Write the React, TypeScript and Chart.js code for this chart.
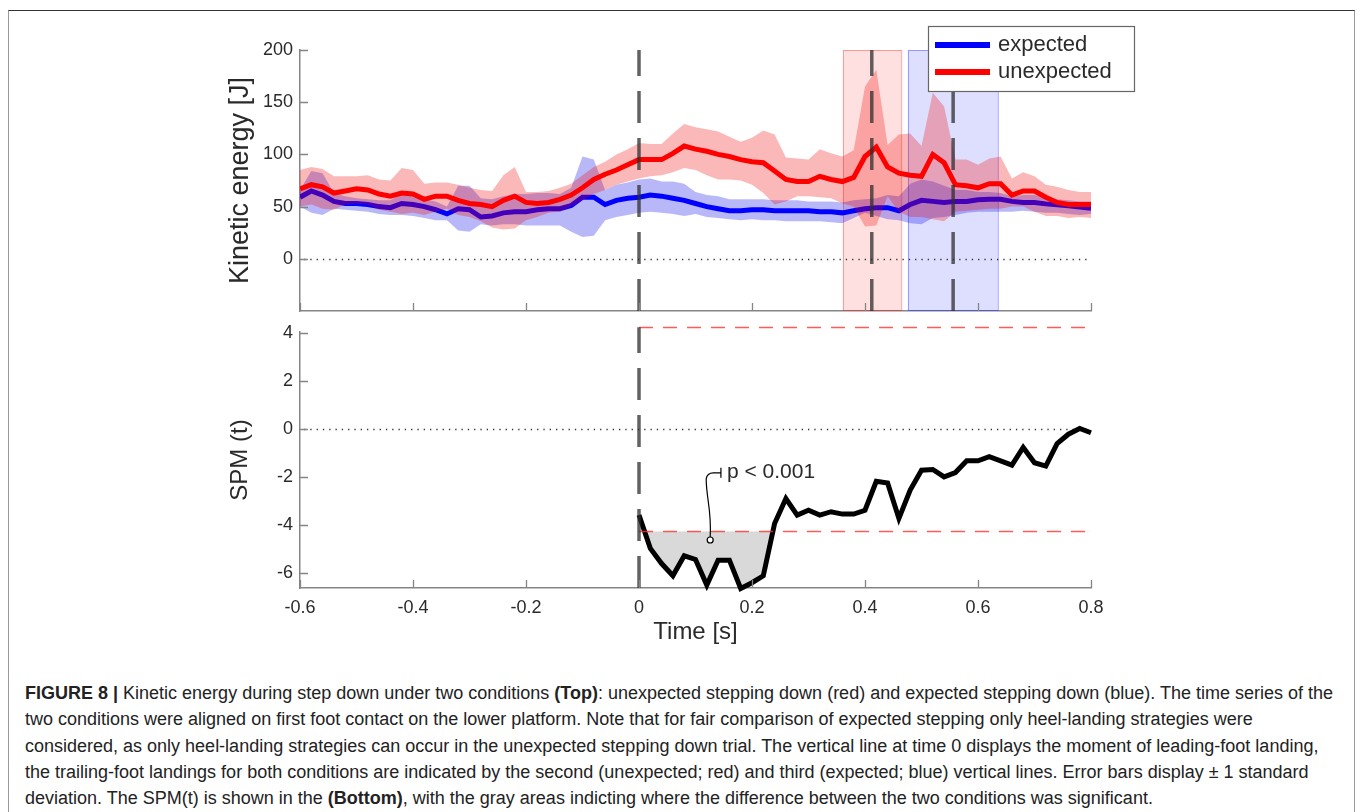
import React, { useEffect, useRef } from 'react';
import { Chart, registerables } from 'chart.js';

Chart.register(...registerables);

// ---------- data ----------
const TIME = [
  -0.6, -0.58, -0.56, -0.54, -0.52, -0.5, -0.48, -0.46, -0.44, -0.42,
  -0.4, -0.38, -0.36, -0.34, -0.32, -0.3, -0.28, -0.26, -0.24, -0.22,
  -0.2, -0.18, -0.16, -0.14, -0.12, -0.1, -0.08, -0.06, -0.04, -0.02,
  0, 0.02, 0.04, 0.06, 0.08, 0.1, 0.12, 0.14, 0.16, 0.18,
  0.2, 0.22, 0.24, 0.26, 0.28, 0.3, 0.32, 0.34, 0.36, 0.38,
  0.4, 0.42, 0.44, 0.46, 0.48, 0.5, 0.52, 0.54, 0.56, 0.58,
  0.6, 0.62, 0.64, 0.66, 0.68, 0.7, 0.72, 0.74, 0.76, 0.78,
  0.8,
];

const RED_MEAN = [
  67, 71, 69, 63, 65, 67, 66, 62, 60, 63,
  62, 57, 60, 60, 56, 53, 52, 50, 56, 60,
  54, 53, 54, 57, 61, 68, 76, 81, 85, 90,
  95, 95, 95, 101, 108, 105, 103, 100, 98, 95,
  93, 92, 84, 76, 74, 74, 79, 76, 74, 78,
  98, 107, 88, 82, 80, 79, 100, 92, 71, 70,
  68, 72, 72, 61, 65, 65, 59, 54, 52, 52,
  52,
];
const RED_UPPER = [
  85, 88, 86, 79, 79, 79, 80, 76, 75, 87,
  85, 72, 73, 73, 71, 68, 66, 65, 80, 88,
  64, 64, 65, 68, 72, 80, 88, 93, 100, 105,
  111, 110, 110, 120, 129, 126, 124, 122, 117, 112,
  116, 123, 119, 97, 96, 95, 105, 101, 98, 104,
  165, 181, 109, 119, 120, 108, 159, 146, 95, 95,
  90, 96, 98, 77, 83, 79, 71, 69, 66, 64,
  64,
];
const RED_LOWER = [
  50, 52, 48, 47, 52, 53, 52, 47, 45, 43,
  44, 42, 45, 48, 42, 40, 36, 30, 28, 29,
  37, 40, 44, 45, 50, 56, 62, 66, 71, 74,
  77, 79, 80, 83, 87, 85, 80, 76, 76, 75,
  71, 63, 52, 55, 60, 60, 59, 58, 53, 50,
  31, 32, 60, 45, 40, 40, 38, 36, 45, 46,
  47, 48, 48, 50, 50, 45, 41, 41, 39, 40,
  39,
];

const BLUE_MEAN = [
  59, 65, 61, 55, 53, 53, 52, 50, 49, 53,
  52, 50, 47, 43, 48, 47, 40, 41, 44, 45,
  45, 47, 48, 48, 51, 59, 59, 52, 56, 58,
  59, 61, 60, 58, 56, 53, 50, 48, 46, 46,
  47, 47, 46, 46, 46, 46, 45, 45, 44, 46,
  48, 49, 49, 46, 52, 56, 55, 54, 55, 55,
  56.5, 57, 57, 55, 54, 54, 52.6, 51.7, 50.7, 49.5,
  48.5,
];
const BLUE_UPPER = [
  66, 84, 82, 63, 60, 58, 57, 56, 56, 62,
  60, 57, 55, 50, 70, 70, 58, 57, 60, 62,
  62, 63, 63, 62, 68, 98, 95, 66, 71, 73,
  76, 77, 74, 74, 72, 64, 61, 60, 57, 57,
  57, 57, 56, 56, 56, 55, 55, 55, 54, 56,
  57, 58, 61, 60, 72, 76, 74, 70, 66, 66,
  64, 64, 63, 60, 61, 61, 59, 57, 56, 55,
  55,
];
const BLUE_LOWER = [
  50, 44, 42, 48, 47, 46, 45, 43, 42, 42,
  41, 39, 37, 37, 27, 26, 33, 32, 33, 33,
  32, 32, 32, 32, 26, 21, 22, 37, 40, 42,
  44, 45, 44, 43, 41, 43, 40, 39, 38, 37,
  38, 37, 37, 36, 36, 36, 36, 35, 34, 39,
  44, 41, 38, 37, 34, 33, 39, 40, 42, 44,
  45, 45, 45, 45, 46, 45, 44, 44, 43, 42,
  43,
];

const SPM_TIME = [
  0, 0.02, 0.04, 0.06, 0.08, 0.1, 0.12, 0.14, 0.16, 0.18,
  0.2, 0.22, 0.24, 0.26, 0.28, 0.3, 0.32, 0.34, 0.36, 0.38,
  0.4, 0.42, 0.44, 0.46, 0.48, 0.5, 0.52, 0.54, 0.56, 0.58,
  0.6, 0.62, 0.64, 0.66, 0.68, 0.7, 0.72, 0.74, 0.76, 0.78,
  0.8,
];
const SPM_T = [
  -3.58, -4.97, -5.6, -6.11, -5.28, -5.43, -6.5, -5.46, -5.46, -6.64,
  -6.4, -6.11, -3.93, -2.89, -3.58, -3.38, -3.58, -3.44, -3.54, -3.54,
  -3.38, -2.17, -2.24, -3.72, -2.54, -1.71, -1.68, -1.99, -1.81, -1.32,
  -1.32, -1.15, -1.32, -1.5, -0.76, -1.4, -1.54, -0.6, -0.21, 0.03,
  -0.15,
];

const X_TICKS = [-0.6, -0.4, -0.2, 0, 0.2, 0.4, 0.6, 0.8];
const KE_TICKS = [0, 50, 100, 150, 200];
const SPM_TICKS = [-6, -4, -2, 0, 2, 4];
const KE_RANGE = [-50, 200];
const SPM_RANGE = [-6.62, 4.05];
const X_RANGE = [-0.6, 0.8];
const THRESHOLD = 4.25;
const EVENT_LINES_TOP = [0, 0.412, 0.556];
const EVENT_LINES_BOTTOM = [0];
const RED_WINDOW = [0.361, 0.464];
const BLUE_WINDOW = [0.476, 0.635];
const LEGEND_LABELS = ['expected', 'unexpected'];
const ANNOT_POINT = [0.126, -4.62];
const ANNOT_LABEL = [0.145, -1.82];
const ANNOT_TEXT = 'p < 0.001';

// ---------- style ----------
const FONT = "'Liberation Sans', Helvetica, Arial, sans-serif";
const TEXT_COLOR = '#2a2a2a';
const AXIS_COLOR = '#858585';
const RED = '#ff0000';
const BLUE = '#0000ff';
const RED_BAND = 'rgba(240,0,0,0.28)';
const BLUE_BAND = 'rgba(0,0,235,0.28)';

function drawInwardTicks(chart: any, xVals: number[], yVals: number[]) {
  const { ctx, chartArea: a, scales } = chart;
  ctx.save();
  ctx.strokeStyle = AXIS_COLOR;
  ctx.lineWidth = 1.3;
  ctx.beginPath();
  for (const v of xVals) {
    const px = Math.round(scales.x.getPixelForValue(v)) + 0.5;
    ctx.moveTo(px, a.bottom);
    ctx.lineTo(px, a.bottom - 8);
  }
  for (const v of yVals) {
    const py = Math.round(scales.y.getPixelForValue(v)) + 0.5;
    ctx.moveTo(a.left, py);
    ctx.lineTo(a.left + 8, py);
  }
  ctx.stroke();
  ctx.restore();
}

function drawDashedVertical(ctx: CanvasRenderingContext2D, x: number, yBottom: number, yTop: number) {
  ctx.save();
  ctx.setLineDash([32, 15]);
  ctx.strokeStyle = 'rgba(45,45,45,0.75)';
  ctx.lineWidth = 3.5;
  ctx.beginPath();
  ctx.moveTo(x, yBottom);
  ctx.lineTo(x, yTop);
  ctx.stroke();
  ctx.restore();
}

function drawZeroLine(chart: any) {
  const { ctx, chartArea: a, scales } = chart;
  const y = Math.round(scales.y.getPixelForValue(0)) + 0.5;
  ctx.save();
  ctx.setLineDash([1.3, 5]);
  ctx.strokeStyle = '#333';
  ctx.lineWidth = 1.3;
  ctx.beginPath();
  ctx.moveTo(a.left + 4, y);
  ctx.lineTo(a.right, y);
  ctx.stroke();
  ctx.restore();
}

const topPlugin = {
  id: 'topDeco',
  beforeDatasetsDraw(chart: any) {
    const { ctx, chartArea: a, scales } = chart;
    const wins = [
      { r: RED_WINDOW, fill: 'rgba(255,0,0,0.12)', stroke: 'rgba(255,40,40,0.4)' },
      { r: BLUE_WINDOW, fill: 'rgba(0,0,255,0.13)', stroke: 'rgba(60,60,255,0.45)' },
    ];
    ctx.save();
    for (const w of wins) {
      const x0 = scales.x.getPixelForValue(w.r[0]);
      const x1 = scales.x.getPixelForValue(w.r[1]);
      ctx.fillStyle = w.fill;
      ctx.fillRect(x0, a.top, x1 - x0, a.bottom - a.top);
      ctx.strokeStyle = w.stroke;
      ctx.lineWidth = 1;
      ctx.strokeRect(x0 + 0.5, a.top + 0.5, x1 - x0, a.bottom - a.top - 1);
    }
    ctx.restore();
    drawZeroLine(chart);
  },
  afterDatasetsDraw(chart: any) {
    const { ctx, chartArea: a, scales } = chart;
    for (const t of EVENT_LINES_TOP) {
      drawDashedVertical(ctx, scales.x.getPixelForValue(t), a.bottom, a.top);
    }
  },
  afterDraw(chart: any) {
    drawInwardTicks(chart, X_TICKS, KE_TICKS);
    const { ctx } = chart;
    // legend box
    const bx = 728.5, by = 14.5, bw = 206, bh = 65;
    ctx.save();
    ctx.fillStyle = '#ffffff';
    ctx.fillRect(bx, by, bw, bh);
    ctx.strokeStyle = '#666';
    ctx.lineWidth = 1.2;
    ctx.strokeRect(bx, by, bw, bh);
    const colors = [BLUE, RED];
    LEGEND_LABELS.forEach((lab, i) => {
      const ly = by + 18.5 + i * 27;
      ctx.strokeStyle = colors[i];
      ctx.lineWidth = 6;
      ctx.beginPath();
      ctx.moveTo(bx + 6.5, ly);
      ctx.lineTo(bx + 61.5, ly);
      ctx.stroke();
      ctx.fillStyle = TEXT_COLOR;
      ctx.font = `22px ${FONT}`;
      ctx.textBaseline = 'middle';
      ctx.textAlign = 'left';
      ctx.fillText(lab, bx + 69.5, ly);
    });
    ctx.restore();
  },
};

const bottomPlugin = {
  id: 'bottomDeco',
  beforeDatasetsDraw(chart: any) {
    drawZeroLine(chart);
  },
  afterDatasetsDraw(chart: any) {
    const { ctx, chartArea: a, scales } = chart;
    const x0 = scales.x.getPixelForValue(0);
    const xr = scales.x.getPixelForValue(X_RANGE[1]);
    ctx.save();
    ctx.setLineDash([14, 10]);
    ctx.strokeStyle = 'rgba(255,50,50,0.8)';
    ctx.lineWidth = 1.5;
    for (const v of [THRESHOLD, -THRESHOLD]) {
      const y = Math.round(scales.y.getPixelForValue(v)) + 0.5;
      ctx.beginPath();
      ctx.moveTo(x0, y);
      ctx.lineTo(xr, y);
      ctx.stroke();
    }
    ctx.restore();
    for (const t of EVENT_LINES_BOTTOM) {
      drawDashedVertical(ctx, scales.x.getPixelForValue(t), a.bottom, scales.y.getPixelForValue(THRESHOLD));
    }
  },
  afterDraw(chart: any) {
    drawInwardTicks(chart, X_TICKS, SPM_TICKS);
    const { ctx, scales } = chart;
    const cx = scales.x.getPixelForValue(ANNOT_POINT[0]);
    const cy = scales.y.getPixelForValue(ANNOT_POINT[1]);
    const lx = scales.x.getPixelForValue(ANNOT_LABEL[0]);
    const ly = scales.y.getPixelForValue(ANNOT_LABEL[1]);
    ctx.save();
    ctx.strokeStyle = '#000';
    ctx.lineWidth = 1.2;
    ctx.beginPath();
    ctx.moveTo(cx, cy - 3);
    ctx.bezierCurveTo(cx + 1.5, cy - 30, cx - 4, ly + 25, cx - 4, ly + 6);
    ctx.quadraticCurveTo(cx - 3, ly, cx + 3, ly);
    ctx.lineTo(lx, ly);
    ctx.moveTo(lx, ly - 5);
    ctx.lineTo(lx, ly + 5);
    ctx.stroke();
    ctx.beginPath();
    ctx.arc(cx, cy, 3, 0, Math.PI * 2);
    ctx.fillStyle = '#fff';
    ctx.fill();
    ctx.stroke();
    ctx.fillStyle = TEXT_COLOR;
    ctx.font = `21px ${FONT}`;
    ctx.textBaseline = 'middle';
    ctx.textAlign = 'left';
    ctx.fillText(ANNOT_TEXT, lx + 6, ly - 1);
    ctx.restore();
  },
};

const tickFont = { family: FONT, size: 18 };
const fmt = (v: any) => String(Math.round(Number(v) * 100) / 100);

function xScale(showLabels: boolean, height: number) {
  return {
    type: 'linear' as const,
    min: X_RANGE[0],
    max: X_RANGE[1],
    grid: { display: false, drawTicks: false },
    border: { display: true, color: AXIS_COLOR, width: 1.5 },
    afterBuildTicks: (s: any) => {
      s.ticks = X_TICKS.map((v) => ({ value: v }));
    },
    ticks: { display: showLabels, font: tickFont, color: TEXT_COLOR, padding: 9, callback: fmt, maxRotation: 0, autoSkip: false },
    title: showLabels
      ? { display: true, text: 'Time [s]', font: { family: FONT, size: 24 }, color: TEXT_COLOR, padding: { top: 0, bottom: 13 } }
      : { display: false },
    afterFit: (s: any) => {
      s.height = height;
    },
  };
}

function yScale(range: number[], ticks: number[], title: string, titleSize: number, titlePad: number) {
  return {
    type: 'linear' as const,
    min: range[0],
    max: range[1],
    grid: { display: false, drawTicks: false },
    border: { display: true, color: AXIS_COLOR, width: 1.5 },
    afterBuildTicks: (s: any) => {
      s.ticks = ticks.map((v) => ({ value: v }));
    },
    ticks: { font: tickFont, color: TEXT_COLOR, padding: 7, callback: fmt, autoSkip: false },
    title: { display: true, text: title, font: { family: FONT, size: titleSize }, color: TEXT_COLOR, padding: { top: titlePad, bottom: 0 } },
    afterFit: (s: any) => {
      s.width = 100;
    },
  };
}

const pts = (xs: number[], ys: number[]) => xs.map((x, i) => ({ x, y: ys[i] }));

export default function App() {
  const topRef = useRef<HTMLCanvasElement>(null);
  const botRef = useRef<HTMLCanvasElement>(null);

  useEffect(() => {
    const common = {
      animation: false as const,
      responsive: false,
      devicePixelRatio: 1,
      events: [] as any[],
      plugins: { legend: { display: false }, tooltip: { enabled: false } },
    };
    const top = new Chart(topRef.current!, {
      type: 'line',
      data: {
        datasets: [
          { label: 'unexpected', data: pts(TIME, RED_MEAN), borderColor: RED, borderWidth: 5, pointRadius: 0, fill: false, tension: 0 },
          { label: 'unexpected +1 SD', data: pts(TIME, RED_UPPER), borderWidth: 0, borderColor: 'rgba(0,0,0,0)', pointRadius: 0, fill: '+1', backgroundColor: RED_BAND, tension: 0 },
          { label: 'unexpected -1 SD', data: pts(TIME, RED_LOWER), borderWidth: 0, borderColor: 'rgba(0,0,0,0)', pointRadius: 0, fill: false, tension: 0 },
          { label: 'expected', data: pts(TIME, BLUE_MEAN), borderColor: BLUE, borderWidth: 5, pointRadius: 0, fill: false, tension: 0 },
          { label: 'expected +1 SD', data: pts(TIME, BLUE_UPPER), borderWidth: 0, borderColor: 'rgba(0,0,0,0)', pointRadius: 0, fill: '+1', backgroundColor: BLUE_BAND, tension: 0 },
          { label: 'expected -1 SD', data: pts(TIME, BLUE_LOWER), borderWidth: 0, borderColor: 'rgba(0,0,0,0)', pointRadius: 0, fill: false, tension: 0 },
        ],
      },
      options: {
        ...common,
        layout: { padding: { left: 0, right: 69, top: 38, bottom: 19 } },
        scales: {
          x: xScale(false, 0) as any,
          y: yScale(KE_RANGE, KE_TICKS, 'Kinetic energy [J]', 27, 24) as any,
        },
      },
      plugins: [topPlugin],
    });

    const bot = new Chart(botRef.current!, {
      type: 'line',
      data: {
        datasets: [
          {
            label: 'SPM(t)',
            data: pts(SPM_TIME, SPM_T),
            borderColor: '#000',
            borderWidth: 5,
            pointRadius: 0,
            tension: 0,
            clip: false as any,
            fill: { target: { value: -THRESHOLD }, above: 'rgba(0,0,0,0)', below: '#d9d9d9' } as any,
          },
        ],
      },
      options: {
        ...common,
        layout: { padding: { left: 0, right: 69, top: 32, bottom: 0 } },
        scales: {
          x: xScale(true, 72) as any,
          y: yScale(SPM_RANGE, SPM_TICKS, 'SPM (t)', 24, 26) as any,
        },
      },
      plugins: [bottomPlugin],
    });

    return () => {
      top.destroy();
      bot.destroy();
    };
  }, []);

  const lineStyle: React.CSSProperties = { display: 'block', whiteSpace: 'nowrap', height: 26.3 };

  return (
    <div style={{ position: 'absolute', left: 0, top: 0, width: 1360, height: 812, overflow: 'hidden', background: '#fff' }}>
      <div
        style={{
          position: 'absolute',
          left: 8,
          top: 10,
          width: 1347,
          height: 802,
          boxSizing: 'border-box',
          borderTop: '1px solid #333',
          borderLeft: '1.5px solid #9a9a9a',
          borderRight: '1.5px solid #9a9a9a',
        }}
      />
      <canvas ref={topRef} width={960} height={318} style={{ position: 'absolute', left: 200, top: 12, width: 960, height: 318 }} />
      <canvas ref={botRef} width={960} height={360} style={{ position: 'absolute', left: 200, top: 300, width: 960, height: 360 }} />
      <div
        style={{
          position: 'absolute',
          left: 25,
          top: 680,
          fontFamily: FONT,
          fontSize: 18,
          lineHeight: '26.3px',
          color: '#222',
        }}
      >
        <span style={lineStyle}>
          <b>FIGURE 8 |</b> Kinetic energy during step down under two conditions <b>(Top)</b>: unexpected stepping down (red) and expected stepping down (blue). The time series of the
        </span>
        <span style={lineStyle}>
          two conditions were aligned on first foot contact on the lower platform. Note that for fair comparison of expected stepping only heel-landing strategies were
        </span>
        <span style={lineStyle}>
          considered, as only heel-landing strategies can occur in the unexpected stepping down trial. The vertical line at time 0 displays the moment of leading-foot landing,
        </span>
        <span style={lineStyle}>
          the trailing-foot landings for both conditions are indicated by the second (unexpected; red) and third (expected; blue) vertical lines. Error bars display ± 1 standard
        </span>
        <span style={lineStyle}>
          deviation. The SPM(t) is shown in the <b>(Bottom)</b>, with the gray areas indicting where the difference between the two conditions was significant.
        </span>
      </div>
    </div>
  );
}
